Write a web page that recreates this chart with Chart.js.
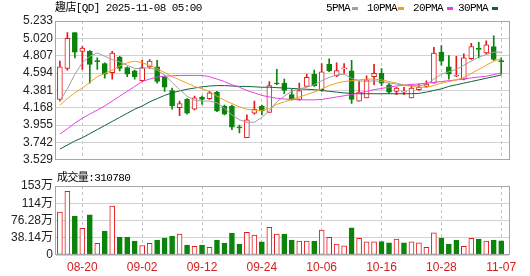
<!DOCTYPE html>
<html>
<head>
<meta charset="utf-8">
<script src="https://cdn.jsdelivr.net/npm/chart.js@4.4.1/dist/chart.umd.min.js"></script>
<style>
  html, body { margin: 0; padding: 0; background: #fff; }
  #wrap { position: relative; width: 530px; height: 276px; overflow: hidden; }
  #kline { position: absolute; left: 0; top: 0; }
  #vol { position: absolute; left: 0; top: 170px; }
  .txt { position: absolute; font-family: "Liberation Mono", "Noto Sans CJK SC", monospace; font-size: 11px; letter-spacing: -0.6px; color: #000; white-space: nowrap; line-height: 13px; }
  .dash { position: absolute; top: 7px; width: 6px; height: 3px; }
</style>
</head>
<body>
<div id="wrap">
  <canvas id="kline" width="530" height="170"></canvas>
  <canvas id="vol" width="530" height="106"></canvas>
  <div class="txt" style="left:55px;top:2px;">趣店[QD] 2025-11-08 05:00</div>
  <div class="txt" style="left:326px;top:2px;">5PMA</div>
  <div class="dash" style="left:352px;background:#a0a0a0;"></div>
  <div class="txt" style="left:367px;top:2px;">10PMA</div>
  <div class="dash" style="left:398px;background:#f0a020;"></div>
  <div class="txt" style="left:413px;top:2px;">20PMA</div>
  <div class="dash" style="left:447px;background:#e83ee8;"></div>
  <div class="txt" style="left:458px;top:2px;">30PMA</div>
  <div class="dash" style="left:492px;background:#10643a;"></div>
  <div class="txt" style="left:57px;top:172px;">成交量:310780</div>
</div>
<script>
// trading days shown (MM-DD)
const dates = ['08-15','08-18','08-19','08-20','08-21','08-22','08-25','08-26','08-27','08-28','08-29',
  '09-02','09-03','09-04','09-05','09-08','09-09','09-10','09-11','09-12','09-15','09-16','09-17','09-18','09-19',
  '09-22','09-23','09-24','09-25','09-26','09-29','09-30','10-01','10-02','10-03','10-06','10-07','10-08','10-09',
  '10-10','10-13','10-14','10-15','10-16','10-17','10-20','10-21','10-22','10-23','10-24','10-27','10-28','10-29',
  '10-30','10-31','11-03','11-04','11-05','11-06','11-07'];
const xLabelIdx = [3, 11, 19, 27, 35, 43, 51, 59];

const open  = [4.27,4.65,5.09,4.86,4.86,4.745,4.71,4.60,4.79,4.66,4.62,4.50,4.67,4.67,4.54,4.38,4.17,4.27,4.15,4.30,
  4.28,4.36,4.19,4.19,3.93,3.80,4.10,4.19,4.11,4.47,4.47,4.33,4.27,4.43,4.58,4.39,4.70,4.56,4.645,4.62,
  4.25,4.29,4.55,4.59,4.45,4.37,4.36,4.29,4.39,4.43,4.47,4.85,4.67,4.555,4.52,4.77,4.895,4.84,4.92,4.745];
const high  = [4.74,5.09,5.09,4.92,4.87,4.78,4.72,4.86,4.80,4.67,4.63,4.75,4.76,4.75,4.56,4.41,4.25,4.28,4.31,4.31,
  4.37,4.37,4.20,4.20,3.955,4.08,4.25,4.20,4.49,4.64,4.52,4.39,4.47,4.58,4.63,4.71,4.77,4.72,4.71,4.75,
  4.49,4.56,4.70,4.65,4.47,4.42,4.42,4.45,4.46,4.50,4.91,4.93,4.81,4.80,4.83,4.96,4.97,4.99,5.05,4.78];
const low   = [4.25,4.63,4.78,4.64,4.47,4.64,4.53,4.52,4.62,4.55,4.52,4.49,4.65,4.47,4.37,4.15,4.07,4.09,4.14,4.21,
  4.27,4.12,4.08,3.90,3.86,3.80,4.09,4.08,4.11,4.45,4.34,4.26,4.26,4.43,4.43,4.37,4.61,4.55,4.59,4.22,
  4.25,4.29,4.45,4.44,4.34,4.33,4.33,4.29,4.38,4.42,4.47,4.69,4.52,4.55,4.51,4.76,4.78,4.83,4.75,4.58];
const close = [4.67,5.02,4.85,4.90,4.70,4.735,4.58,4.84,4.65,4.58,4.55,4.66,4.74,4.49,4.42,4.19,4.22,4.10,4.29,4.27,
  4.35,4.13,4.09,3.93,3.92,4.02,4.15,4.13,4.44,4.46,4.38,4.27,4.38,4.54,4.44,4.61,4.62,4.625,4.655,4.27,
  4.36,4.51,4.59,4.47,4.36,4.41,4.365,4.41,4.42,4.46,4.84,4.74,4.58,4.565,4.78,4.92,4.885,4.94,4.76,4.735];
// volume in 万 shares
const volume = [95,141,86,59,89,26,53,108,39,39,31,21,26,33,37.6,42,46,22,19,22,
  17,33,26.5,48.6,24,50,44,29,61,46,46,33,31,31,31,55,39,24,20,60,
  37,29,29,29.5,27,35,27,29,27,17,49,37.6,24,33,19,37,35,31,33,31.078];

const ma5  = [4.25,4.40,4.58,4.72,4.80,4.84,4.80,4.76,4.73,4.69,4.65,4.65,4.66,4.63,4.57,4.48,4.39,4.31,4.26,4.25,
  4.25,4.23,4.16,4.08,4.02,3.99,3.99,4.05,4.13,4.24,4.31,4.37,4.40,4.42,4.45,4.50,4.54,4.57,4.58,4.53,
  4.50,4.49,4.50,4.49,4.47,4.46,4.44,4.44,4.44,4.45,4.52,4.58,4.61,4.64,4.69,4.74,4.79,4.82,4.85,4.85];
const ma10 = [4.20,4.28,4.35,4.41,4.48,4.55,4.59,4.63,4.68,4.72,4.74,4.72,4.69,4.65,4.60,4.55,4.51,4.47,4.43,4.40,
  4.37,4.31,4.26,4.22,4.18,4.15,4.14,4.135,4.16,4.21,4.24,4.27,4.30,4.33,4.36,4.40,4.44,4.47,4.49,4.50,
  4.51,4.52,4.52,4.51,4.49,4.47,4.45,4.43,4.42,4.42,4.44,4.47,4.49,4.51,4.54,4.59,4.64,4.69,4.74,4.77];
const ma20 = [3.845,3.91,3.98,4.04,4.09,4.14,4.19,4.25,4.31,4.37,4.43,4.49,4.52,4.545,4.555,4.56,4.565,4.565,4.565,4.565,
  4.55,4.52,4.49,4.45,4.42,4.38,4.35,4.32,4.30,4.285,4.275,4.27,4.265,4.265,4.265,4.27,4.285,4.30,4.315,4.33,
  4.35,4.37,4.39,4.405,4.42,4.435,4.445,4.455,4.46,4.47,4.48,4.49,4.50,4.51,4.52,4.535,4.545,4.555,4.575,4.595];
const ma30 = [3.66,3.71,3.76,3.80,3.85,3.90,3.95,4.00,4.05,4.10,4.15,4.19,4.24,4.28,4.32,4.35,4.375,4.395,4.41,4.425,
  4.435,4.44,4.44,4.435,4.43,4.43,4.425,4.42,4.42,4.415,4.41,4.405,4.40,4.395,4.39,4.38,4.37,4.36,4.35,4.345,
  4.34,4.34,4.34,4.34,4.34,4.34,4.34,4.34,4.345,4.36,4.38,4.40,4.43,4.45,4.47,4.49,4.51,4.53,4.55,4.57];

const priceTicks = [3.529, 3.742, 3.955, 4.168, 4.381, 4.594, 4.807, 5.020, 5.233];
const volTicks = [0, 38.14, 76.28, 114.42, 152.56];
const volTickLabels = ['0', '38.14万', '76.28万', '114万', '153万'];

const RED = '#e3191c';
const GREEN = '#0a840a';
const up = i => close[i] >= open[i];
const volUp = i => i === 0 || close[i] >= close[i - 1];
const pts = arr => arr.map((v, i) => ({ x: i, y: v }));

// draws the grey box round the plot area
const frame = {
  id: 'frame',
  afterDraw(chart) {
    const { ctx, chartArea: a } = chart;
    ctx.save();
    ctx.strokeStyle = '#a6a6a6';
    ctx.lineWidth = 1;
    ctx.strokeRect(Math.round(a.left) - 0.5, Math.round(a.top) + 0.5,
      Math.round(a.right - a.left) + 1, Math.round(a.bottom - a.top) - 1);
    ctx.restore();
  }
};

const xScale = (showLabels) => ({
  type: 'linear',
  offset: false,
  min: -0.52,
  max: 60.04,
  afterBuildTicks: s => { s.ticks = xLabelIdx.map(v => ({ value: v })); },
  ticks: {
    display: showLabels,
    autoSkip: false,
    maxRotation: 0,
    padding: 5,
    color: '#d42020',
    font: { family: 'Liberation Sans', size: 12 },
    callback: v => dates[v]
  },
  grid: { color: '#c4c4c4', drawTicks: false, offset: false },
  border: { display: false, dash: [3, 3] },
  afterFit: s => { s.height = showLabels ? 21 : 0; }
});

const line = (label, data, color) => ({
  type: 'line', label, data: pts(data), borderColor: color, borderWidth: 1,
  pointRadius: 0, tension: 0, order: 0
});

new Chart(document.getElementById('kline'), {
  data: {
    datasets: [
      line('5PMA', ma5, '#a0a0a0'),
      line('10PMA', ma10, '#f0a020'),
      line('20PMA', ma20, '#e83ee8'),
      line('30PMA', ma30, '#10643a'),
      {
        type: 'bar', label: 'body',
        data: open.map((o, i) => ({ x: i, y: [o, close[i]] })),
        backgroundColor: ctx => up(ctx.dataIndex) ? '#ffffff' : GREEN,
        borderColor: ctx => up(ctx.dataIndex) ? RED : GREEN,
        borderWidth: 1, borderSkipped: false, barThickness: 5, minBarLength: 1,
        grouped: false, order: 1
      },
      {
        type: 'bar', label: 'wick',
        data: low.map((l, i) => ({ x: i, y: [l, high[i]] })),
        backgroundColor: ctx => up(ctx.dataIndex) ? RED : GREEN,
        borderWidth: 0, barThickness: 1, grouped: false, order: 2
      }
    ]
  },
  options: {
    responsive: false,
    animation: false,
    layout: { padding: { left: 0, right: 21, top: 21, bottom: 5 } },
    plugins: { legend: { display: false }, tooltip: { enabled: false } },
    scales: {
      x: xScale(false),
      y: {
        min: 3.529, max: 5.233,
        afterBuildTicks: s => { s.ticks = priceTicks.map(v => ({ value: v })); },
        ticks: { autoSkip: false, callback: v => v.toFixed(3), color: '#222', padding: 3,
                 font: { family: 'Liberation Sans', size: 12 } },
        grid: { color: '#d2d2d2', drawTicks: false },
        border: { display: false },
        afterFit: s => { s.width = 56; }
      }
    }
  },
  plugins: [frame]
});

new Chart(document.getElementById('vol'), {
  type: 'bar',
  data: {
    datasets: [{
      label: '成交量',
      data: pts(volume),
      backgroundColor: ctx => volUp(ctx.dataIndex) ? '#ffffff' : GREEN,
      borderColor: ctx => volUp(ctx.dataIndex) ? RED : GREEN,
      borderWidth: 1, borderSkipped: false, barThickness: 5, grouped: false
    }]
  },
  options: {
    responsive: false,
    animation: false,
    layout: { padding: { left: 0, right: 21, top: 16, bottom: 0 } },
    plugins: { legend: { display: false }, tooltip: { enabled: false } },
    scales: {
      x: xScale(true),
      y: {
        min: 0, max: 152.56,
        afterBuildTicks: s => { s.ticks = volTicks.map(v => ({ value: v })); },
        ticks: { autoSkip: false, callback: (v, i) => volTickLabels[i], color: '#222', padding: 3,
                 font: { family: "'Liberation Sans', 'Noto Sans CJK SC'", size: 12 } },
        grid: { color: '#d2d2d2', drawTicks: false },
        border: { display: false },
        afterFit: s => { s.width = 56; }
      }
    }
  },
  plugins: [frame]
});
</script>
</body>
</html>
